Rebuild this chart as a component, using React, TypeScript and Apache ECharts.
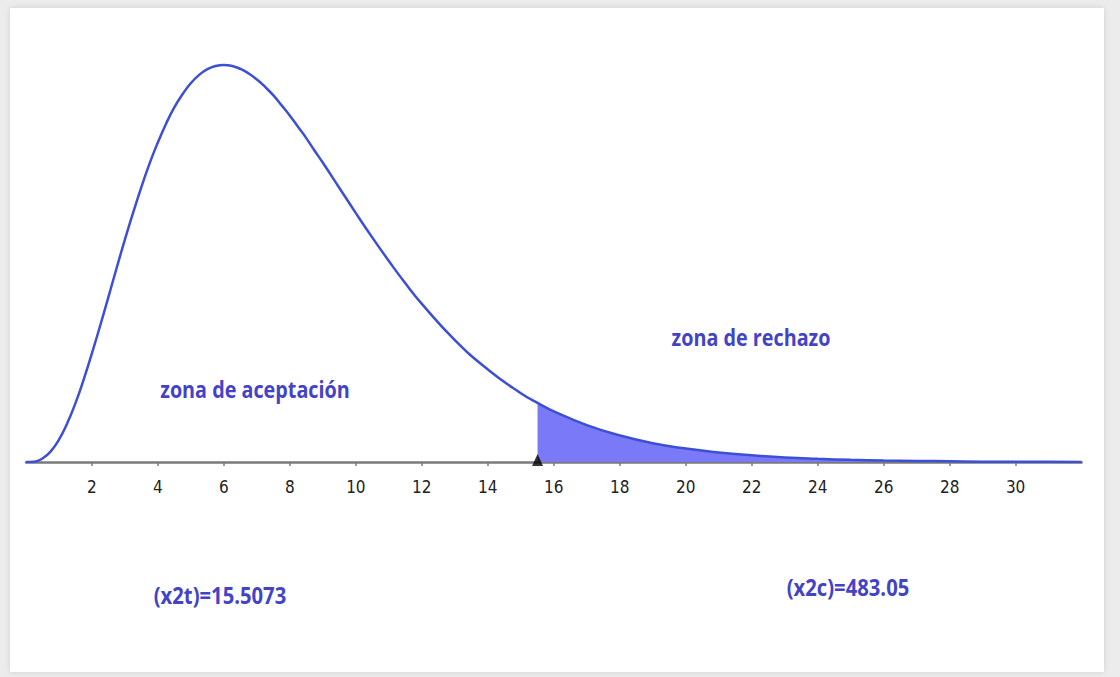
import React, { useEffect, useRef } from "react";
import * as echarts from "echarts";

// Values (density of the plotted curve)
const curveX = [0, 0.25, 0.5, 0.75, 1, 1.25, 1.5, 1.75, 2, 2.25, 2.5, 2.75, 3, 3.25, 3.5, 3.75, 4, 4.25, 4.5, 4.75, 5, 5.25, 5.5, 5.75, 6, 6.25, 6.5, 6.75, 7, 7.25, 7.5, 7.75, 8, 8.25, 8.5, 8.75, 9, 9.5, 10, 10.5, 11, 11.5, 12, 13, 14, 15, 15.5073, 16, 17, 18, 19, 20, 21, 22, 23, 24, 25, 26, 27, 28, 29, 30, 31, 32];
const curveY = [0, 0.0001, 0.001, 0.003, 0.0063, 0.0109, 0.0166, 0.0233, 0.0307, 0.0385, 0.0466, 0.0548, 0.0628, 0.0704, 0.0776, 0.0843, 0.0902, 0.0955, 0.1001, 0.1038, 0.1069, 0.1092, 0.1108, 0.1117, 0.112, 0.1117, 0.1109, 0.1096, 0.1079, 0.1058, 0.1034, 0.1006, 0.0977, 0.0945, 0.0913, 0.0878, 0.0844, 0.0773, 0.0702, 0.0633, 0.0567, 0.0504, 0.0446, 0.0344, 0.0261, 0.0194, 0.0167, 0.0143, 0.0104, 0.0075, 0.0053, 0.0038, 0.0027, 0.0019, 0.0013, 0.0009, 0.0006, 0.0004, 0.0003, 0.0002, 0.0001, 0.0001, 0.0001, 0.0];
const criticalValue = 15.5073;
const xTicks = [2, 4, 6, 8, 10, 12, 14, 16, 18, 20, 22, 24, 26, 28, 30];
const labelAccept = "zona de aceptación";
const labelReject = "zona de rechazo";
const labelTable = "(x2t)=15.5073";
const labelCalc = "(x2c)=483.05";

export default function App() {
  const ref = useRef<HTMLDivElement>(null);
  useEffect(() => {
    if (!ref.current) return;
    const chart = echarts.init(ref.current, undefined, { renderer: "svg" });
    const curve = curveX.map((x, i) => [x, curveY[i]]);
    const tail = curve.filter((p) => p[0] >= criticalValue);
    const textColor = "#4343c6";
    const txtFont = "'Open Sans', 'Noto Sans', sans-serif";
    chart.setOption({
      animation: false,
      grid: { left: 26, right: 38.4, top: 36.6, bottom: 215 },
      xAxis: {
        type: "value",
        min: 0,
        max: 32,
        interval: 2,
        splitLine: { show: false },
        axisLine: { show: true, lineStyle: { color: "#7a7a7a", width: 2.5 } },
        axisTick: { show: true, length: 4, lineStyle: { color: "#7a7a7a", width: 1.5 } },
        axisLabel: {
          show: true,
          margin: 16,
          color: "#222",
          fontSize: 17,
          fontFamily: "'DejaVu Sans Condensed', 'Liberation Sans Narrow', 'Roboto', sans-serif",
          showMinLabel: false,
          showMaxLabel: false,
          formatter: (v: number) => (xTicks.indexOf(v) >= 0 ? String(v) : ""),
        },
      },
      yAxis: { type: "value", min: 0, max: 0.12, show: false, splitLine: { show: false } },
      series: [
        {
          type: "line",
          data: tail,
          smooth: true,
          symbol: "none",
          lineStyle: { width: 0 },
          areaStyle: { color: "#7a7af8", opacity: 1 },
          z: 2,
        },
        {
          type: "line",
          data: curve,
          smooth: true,
          symbol: "none",
          lineStyle: { color: "#3d4fd4", width: 2.5 },
          z: 3,
        },
        {
          type: "scatter",
          data: [[criticalValue, 0]],
          symbol: "triangle",
          symbolSize: [11, 12],
          symbolOffset: [0, -2],
          itemStyle: { color: "#000" },
          z: 5,
        },
      ],
      graphic: [
        {
          type: "text",
          x: 255,
          y: 389,
          scaleX: 0.86,
          style: { text: labelAccept, fill: textColor, font: `bold 23px ${txtFont}`, align: "center", verticalAlign: "middle" },
        },
        {
          type: "text",
          x: 751,
          y: 337,
          scaleX: 0.86,
          style: { text: labelReject, fill: textColor, font: `bold 23px ${txtFont}`, align: "center", verticalAlign: "middle" },
        },
        {
          type: "text",
          x: 220,
          y: 595,
          scaleX: 0.88,
          style: { text: labelTable, fill: textColor, font: `bold 23px ${txtFont}`, align: "center", verticalAlign: "middle" },
        },
        {
          type: "text",
          x: 848,
          y: 587,
          scaleX: 0.88,
          style: { text: labelCalc, fill: textColor, font: `bold 23px ${txtFont}`, align: "center", verticalAlign: "middle" },
        },
      ],
    });
    return () => chart.dispose();
  }, []);
  return (
    <div style={{ position: "fixed", left: 0, top: 0, width: 1120, height: 677, background: "#ececec", overflow: "hidden" }}>
      <div style={{ position: "absolute", left: 10, top: 8, width: 1094, height: 664, background: "#fff", boxShadow: "0 0 6px rgba(0,0,0,0.12)" }} />
      <div ref={ref} style={{ position: "absolute", left: 0, top: 0, width: 1120, height: 677 }} />
    </div>
  );
}
